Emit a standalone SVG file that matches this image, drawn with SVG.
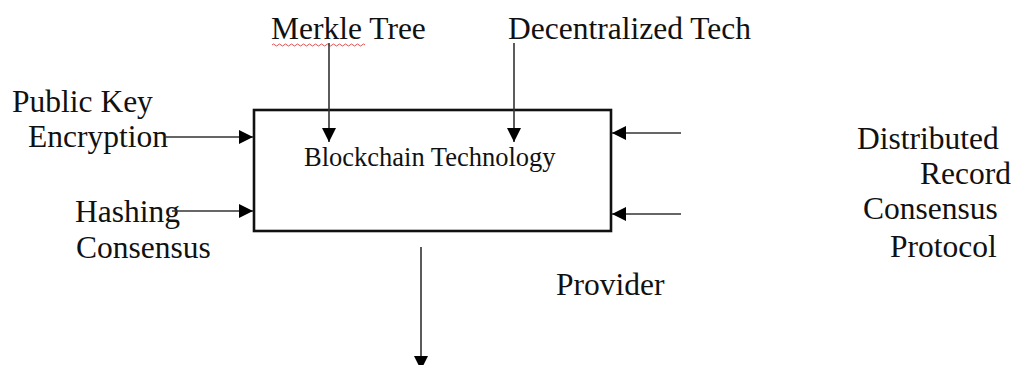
<svg xmlns="http://www.w3.org/2000/svg" width="1016" height="365" viewBox="0 0 1016 365">
<style>
text { font-family: "Liberation Serif", "Times New Roman", serif; fill: #111; }
.lbl { font-size: 31.5px; }
.title { font-size: 26.5px; }
.conn line { stroke: #333; stroke-width: 1.6; }
.box { fill: #fff; stroke: #111; stroke-width: 2.6; }
</style>
<defs>
<marker id="ah" viewBox="0 0 14 14" refX="14" refY="7" markerWidth="14" markerHeight="14" markerUnits="userSpaceOnUse" orient="auto">
<path d="M0,0 L14,7 L0,14 Z" fill="#000"/>
</marker>
</defs>
<rect width="1016" height="365" fill="#fff"/>
<g id="node-blockchain">
<rect class="box" x="254" y="110" width="357" height="121"/>
<text class="title" x="304" y="166">Blockchain Technology</text>
</g>
<g id="node-merkle">
<text class="lbl" x="271" y="39">Merkle Tree</text>
<path d="M272,45 q1.5,-2 3,0 t3,0 t3,0 t3,0 t3,0 t3,0 t3,0 t3,0 t3,0 t3,0 t3,0 t3,0 t3,0 t3,0 t3,0 t3,0 t3,0 t3,0 t3,0 t3,0 t3,0 t3,0 t3,0 t3,0 t3,0 t3,0 t3,0 t3,0 t3,0 t3,0 t3,0" fill="none" stroke="#e05050" stroke-width="1"/>
</g>
<g id="node-decentralized">
<text class="lbl" x="508" y="39">Decentralized Tech</text>
</g>
<g id="node-publickey">
<text class="lbl" x="12" y="112">Public Key</text>
<text class="lbl" x="28" y="147">Encryption</text>
</g>
<g id="node-hashing">
<text class="lbl" x="75" y="222">Hashing</text>
<text class="lbl" x="76" y="258">Consensus</text>
</g>
<g id="node-distributed">
<text class="lbl" x="857" y="149">Distributed</text>
<text class="lbl" x="920" y="184">Record</text>
<text class="lbl" x="863" y="219">Consensus</text>
<text class="lbl" x="890" y="257">Protocol</text>
</g>
<g id="node-provider">
<text class="lbl" x="556" y="295">Provider</text>
</g>
<g id="connectors" class="conn">
<line x1="329" y1="43" x2="329" y2="142" marker-end="url(#ah)"/>
<line x1="514" y1="43" x2="514" y2="142" marker-end="url(#ah)"/>
<line x1="165" y1="137" x2="253" y2="137" marker-end="url(#ah)"/>
<line x1="172" y1="211" x2="253" y2="211" marker-end="url(#ah)"/>
<line x1="681" y1="133" x2="612" y2="133" marker-end="url(#ah)"/>
<line x1="681" y1="214" x2="612" y2="214" marker-end="url(#ah)"/>
<line x1="421" y1="247" x2="421" y2="370" marker-end="url(#ah)"/>
</g>
</svg>
